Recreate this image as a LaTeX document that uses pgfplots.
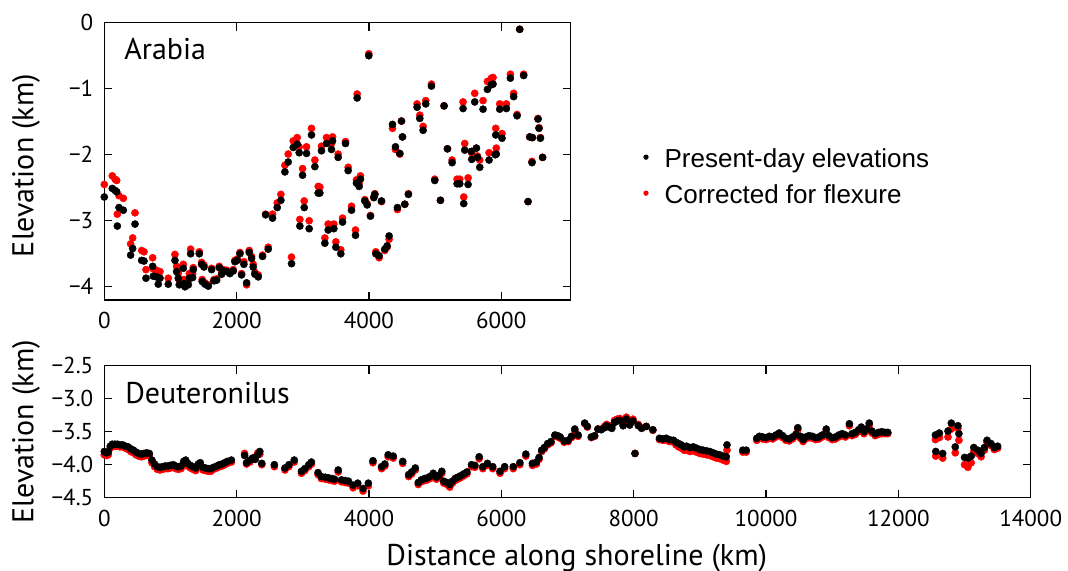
\documentclass[border=0pt]{standalone}
\usepackage{fontspec}
\setmainfont{PT Sans}
\newfontfamily\legendfont{Liberation Sans}
\usepackage{pgfplots}
\pgfplotsset{compat=1.18}
\usepackage{pgfplotstable}

\newcommand\tickfont{\fontsize{11.5}{13}\selectfont}
\newcommand\labfont{\fontsize{15}{18}\selectfont}

% Arabia: distance, present-day elevation, corrected elevation
\pgfplotstableread{
x b r
0 -2.64 -2.45
121 -2.51 -2.32
162 -2.54 -2.37
187 -2.56 -2.39
197 -3.08 -2.90
222 -2.80 -2.62
288 -2.84 -2.66
398 -3.52 -3.35
429 -3.42 -3.26
464 -3.05 -2.88
565 -3.60 -3.45
600 -3.61 -3.47
630 -3.87 -3.74
731 -3.69 -3.56
741 -3.84 -3.73
791 -3.85 -3.75
816 -3.96 -3.86
842 -3.87 -3.77
967 -3.96 -3.87
1068 -3.60 -3.51
1093 -3.77 -3.69
1118 -3.87 -3.80
1133 -3.97 -3.90
1194 -3.72 -3.66
1204 -3.95 -3.89
1219 -4.00 -3.94
1270 -3.97 -3.91
1285 -3.87 -3.80
1305 -3.50 -3.43
1335 -3.86 -3.80
1345 -3.74 -3.71
1436 -3.50 -3.47
1471 -3.66 -3.63
1480 -3.92 -3.89
1506 -3.70 -3.67
1521 -3.96 -3.94
1572 -3.99 -3.97
1622 -3.74 -3.72
1657 -3.91 -3.89
1698 -3.90 -3.88
1738 -3.71 -3.69
1773 -3.81 -3.79
1798 -3.76 -3.74
1849 -3.77 -3.75
1899 -3.80 -3.78
1949 -3.76 -3.74
1974 -3.62 -3.60
2010 -3.60 -3.58
2050 -3.50 -3.48
2075 -3.82 -3.80
2110 -3.66 -3.62
2151 -3.94 -3.97
2191 -3.48 -3.45
2226 -3.57 -3.54
2251 -3.70 -3.66
2276 -3.81 -3.78
2327 -3.85 -3.82
2392 -3.54 -3.52
2438 -2.91 -2.90
2478 -3.43 -3.40
2543 -2.96 -2.90
2614 -2.80 -2.73
2669 -2.69 -2.60
2730 -2.26 -2.16
2780 -2.11 -1.99
2830 -3.65 -3.55
2856 -1.89 -1.79
2916 -1.84 -1.74
2946 -1.97 -1.88
2956 -3.08 -2.98
2997 -2.31 -2.21
3022 -2.80 -2.70
3057 -1.98 -1.88
3097 -3.12 -3.00
3132 -1.70 -1.60
3183 -2.18 -2.08
3233 -2.58 -2.48
3258 -2.58 -2.49
3283 -1.94 -1.87
3334 -3.34 -3.26
3359 -1.83 -1.74
3384 -3.14 -3.05
3434 -1.92 -1.83
3450 -1.79 -1.73
3470 -3.12 -3.05
3500 -3.40 -3.32
3535 -2.04 -1.99
3575 -3.50 -3.44
3601 -3.02 -2.96
3646 -1.83 -1.80
3686 -2.24 -2.19
3737 -2.84 -2.78
3797 -3.22 -3.14
3812 -2.43 -2.38
3822 -1.14 -1.08
3852 -2.48 -2.44
3872 -2.37 -2.32
3938 -2.70 -2.68
3973 -2.76 -2.74
3998 -0.50 -0.47
4023 -2.93 -2.92
4074 -2.65 -2.64
4089 -2.60 -2.59
4104 -3.50 -3.47
4154 -3.53 -3.56
4190 -2.70 -2.71
4240 -3.43 -3.45
4275 -3.38 -3.40
4305 -3.23 -3.28
4356 -1.54 -1.60
4401 -1.88 -1.92
4431 -2.80 -2.83
4467 -1.98 -1.99
4492 -1.49 -1.49
4507 -1.73 -1.73
4542 -2.75 -2.75
4597 -2.60 -2.59
4728 -1.28 -1.23
4769 -1.45 -1.40
4819 -1.63 -1.57
4859 -1.23 -1.18
4945 -0.96 -0.93
4995 -2.39 -2.37
5081 -2.69 -2.69
5136 -1.26 -1.26
5187 -1.91 -1.91
5257 -2.12 -2.08
5333 -2.44 -2.37
5373 -2.44 -2.37
5423 -1.30 -1.20
5433 -2.74 -2.64
5448 -1.93 -1.83
5499 -2.45 -2.35
5549 -1.95 -1.95
5554 -2.07 -1.97
5599 -1.20 -1.07
5624 -1.90 -1.90
5640 -2.04 -2.02
5675 -2.19 -2.08
5725 -1.31 -1.18
5791 -1.01 -0.89
5816 -2.08 -1.97
5851 -0.94 -0.84
5876 -0.93 -0.83
5911 -2.00 -1.98
5917 -1.70 -1.60
5925 -1.99 -1.90
5977 -1.31 -1.23
6012 -1.75 -1.68
6078 -1.30 -1.23
6138 -0.84 -0.78
6188 -1.12 -1.07
6239 -1.41 -1.39
6279 -0.10 -0.10
6339 -0.80 -0.78
6405 -2.71 -2.71
6430 -1.73 -1.73
6465 -2.12 -2.10
6470 -1.74 -1.74
6556 -1.46 -1.45
6571 -1.60 -1.59
6592 -1.75 -1.74
6625 -2.04 -2.04
}\arabia

% Deuteronilus
\pgfplotstableread{
x b r
0 -3.80 -3.85
30 -3.82 -3.86
60 -3.81 -3.85
90 -3.72 -3.75
120 -3.69 -3.72
160 -3.69 -3.72
200 -3.69 -3.72
240 -3.70 -3.73
280 -3.70 -3.73
320 -3.72 -3.75
360 -3.73 -3.77
400 -3.76 -3.80
440 -3.78 -3.82
480 -3.81 -3.85
520 -3.83 -3.87
560 -3.84 -3.88
600 -3.83 -3.87
640 -3.82 -3.86
680 -3.83 -3.86
720 -3.93 -3.97
760 -3.99 -4.03
800 -4.03 -4.07
840 -4.04 -4.08
880 -4.03 -4.07
920 -4.02 -4.06
960 -4.02 -4.06
1000 -4.01 -4.05
1040 -4.00 -4.04
1080 -4.02 -4.06
1120 -4.03 -4.07
1160 -4.02 -4.06
1200 -3.95 -3.98
1230 -3.93 -3.96
1260 -3.98 -4.02
1300 -4.01 -4.05
1340 -4.03 -4.07
1380 -4.05 -4.09
1420 -3.99 -4.03
1450 -3.97 -4.01
1490 -4.04 -4.08
1530 -4.05 -4.09
1570 -4.06 -4.10
1610 -4.06 -4.10
1650 -4.04 -4.07
1700 -4.02 -4.05
1740 -4.00 -4.03
1780 -3.99 -4.02
1820 -3.97 -4.00
1860 -3.95 -3.98
1920 -3.93 -3.96
2120 -3.86 -3.83
2150 -3.97 -3.99
2200 -3.93 -3.96
2240 -3.90 -3.92
2280 -3.92 -3.88
2320 -3.85 -3.82
2350 -3.80 -3.84
2380 -3.98 -4.00
2570 -4.00 -4.03
2730 -4.05 -4.08
2790 -4.00 -4.03
2870 -3.93 -3.96
2980 -4.10 -4.13
3030 -4.06 -4.09
3090 -4.00 -4.03
3130 -3.96 -3.99
3230 -4.12 -4.15
3280 -4.18 -4.21
3340 -4.19 -4.22
3390 -4.20 -4.23
3440 -4.21 -4.24
3480 -4.22 -4.25
3535 -4.08 -4.11
3585 -4.23 -4.26
3640 -4.24 -4.27
3690 -4.25 -4.28
3760 -4.31 -4.35
3830 -4.28 -4.32
3910 -4.36 -4.40
3990 -4.28 -4.32
4060 -3.94 -3.97
4190 -4.03 -4.06
4240 -3.99 -4.02
4290 -3.85 -3.88
4366 -3.87 -3.90
4510 -3.95 -3.98
4600 -4.15 -4.18
4645 -4.11 -4.14
4700 -4.05 -4.08
4745 -4.27 -4.30
4790 -4.23 -4.26
4840 -4.21 -4.24
4880 -4.20 -4.23
4920 -4.18 -4.21
4970 -4.13 -4.16
5020 -4.19 -4.22
5060 -4.16 -4.19
5100 -4.10 -4.13
5130 -4.25 -4.28
5180 -4.27 -4.30
5220 -4.30 -4.34
5260 -4.25 -4.28
5300 -4.21 -4.24
5340 -4.19 -4.22
5380 -4.17 -4.20
5430 -4.14 -4.17
5480 -4.11 -4.14
5550 -4.00 -4.03
5600 -4.01 -4.04
5665 -3.88 -3.91
5720 -4.03 -4.06
5790 -3.98 -4.01
5870 -4.03 -4.06
5980 -4.10 -4.13
6050 -4.03 -4.06
6180 -4.03 -4.06
6280 -3.97 -4.00
6370 -3.84 -3.87
6470 -3.98 -4.01
6530 -3.96 -3.99
6570 -3.89 -3.92
6610 -3.78 -3.80
6650 -3.74 -3.76
6700 -3.68 -3.70
6750 -3.65 -3.67
6810 -3.55 -3.57
6850 -3.56 -3.58
6890 -3.58 -3.60
6950 -3.64 -3.66
7010 -3.63 -3.65
7060 -3.57 -3.59
7110 -3.46 -3.48
7160 -3.55 -3.57
7260 -3.37 -3.38
7300 -3.42 -3.43
7360 -3.58 -3.59
7410 -3.56 -3.57
7460 -3.46 -3.46
7510 -3.47 -3.46
7560 -3.44 -3.42
7590 -3.41 -3.39
7630 -3.43 -3.41
7670 -3.45 -3.42
7710 -3.36 -3.33
7750 -3.34 -3.31
7790 -3.33 -3.30
7840 -3.41 -3.38
7890 -3.31 -3.28
7940 -3.40 -3.37
7990 -3.34 -3.31
8020 -3.83 -3.83
8070 -3.41 -3.39
8120 -3.45 -3.44
8190 -3.42 -3.42
8290 -3.47 -3.48
8390 -3.60 -3.62
8440 -3.61 -3.63
8490 -3.60 -3.63
8540 -3.62 -3.65
8600 -3.63 -3.66
8640 -3.66 -3.70
8680 -3.68 -3.73
8720 -3.70 -3.75
8760 -3.73 -3.78
8800 -3.72 -3.78
8850 -3.74 -3.80
8900 -3.73 -3.79
8950 -3.75 -3.81
9000 -3.77 -3.83
9050 -3.78 -3.84
9100 -3.79 -3.85
9150 -3.80 -3.86
9200 -3.82 -3.88
9250 -3.84 -3.90
9300 -3.85 -3.91
9350 -3.87 -3.93
9400 -3.88 -3.95
9410 -3.70 -3.78
9650 -3.78 -3.81
9700 -3.78 -3.81
9860 -3.60 -3.63
9900 -3.57 -3.60
9950 -3.58 -3.61
10000 -3.59 -3.62
10050 -3.57 -3.60
10100 -3.58 -3.61
10150 -3.55 -3.58
10200 -3.52 -3.55
10250 -3.56 -3.59
10300 -3.60 -3.63
10350 -3.61 -3.64
10400 -3.58 -3.61
10450 -3.54 -3.57
10480 -3.44 -3.47
10520 -3.57 -3.60
10560 -3.62 -3.65
10600 -3.58 -3.61
10650 -3.56 -3.59
10700 -3.57 -3.60
10750 -3.59 -3.62
10800 -3.58 -3.61
10850 -3.55 -3.58
10910 -3.46 -3.49
10950 -3.56 -3.59
11000 -3.59 -3.62
11050 -3.58 -3.61
11100 -3.55 -3.58
11150 -3.53 -3.56
11200 -3.55 -3.58
11260 -3.38 -3.41
11300 -3.53 -3.56
11350 -3.51 -3.54
11400 -3.47 -3.50
11440 -3.43 -3.46
11480 -3.50 -3.53
11520 -3.46 -3.49
11560 -3.37 -3.40
11600 -3.49 -3.52
11650 -3.53 -3.56
11700 -3.51 -3.54
11750 -3.50 -3.53
11800 -3.51 -3.53
11840 -3.51 -3.53
12560 -3.55 -3.62
12565 -3.80 -3.87
12620 -3.52 -3.59
12670 -3.83 -3.90
12750 -3.49 -3.58
12800 -3.37 -3.46
12860 -3.73 -3.82
12900 -3.41 -3.45
12915 -3.53 -3.63
13000 -3.89 -4.00
13050 -3.90 -4.04
13100 -3.87 -3.97
13140 -3.74 -3.80
13200 -3.78 -3.83
13250 -3.83 -3.88
13300 -3.74 -3.78
13340 -3.63 -3.66
13400 -3.68 -3.71
13450 -3.74 -3.77
13500 -3.72 -3.75
}\deutero

\pgfplotsset{
  shore/.style={
    scale only axis,
    clip=false,
    scaled ticks=false,
    tick align=inside,
    tick pos=both,
    major tick length=4pt,
    axis line style={line width=0.7pt},
    every tick/.style={black, line width=0.6pt},
    tick label style={font=\tickfont},
    yticklabel style={xshift=-2pt},
    xticklabel style={yshift=-2.5pt},
  },
  dots/.style={only marks, mark=*, mark size=1.8pt, #1,
    mark options={line width=0.2pt}},
}

\begin{document}
\begin{tikzpicture}
\path[use as bounding box] (0,0) rectangle (534pt,285.5pt);

% Arabia
\begin{axis}[shore,
  at={(52.15pt,135.5pt)}, anchor=south west,
  width=233.2pt, height=138.65pt,
  xmin=0, xmax=7050, ymin=-4.2, ymax=0,
  xtick={0,2000,4000,6000}, xticklabels={0,2000,4000,6000},
  ytick={-4,-3,-2,-1,0}, yticklabels={−4,−3,−2,−1,0},
  ylabel={Elevation (km)},
  every axis y label/.style={at={(axis description cs:-0.152,0.485)}, rotate=90, anchor=base, font=\labfont},
  reverse legend,
  legend style={at={(rel axis cs:1.155,0.438)}, anchor=west, draw=none, fill=none,
    font=\legendfont\fontsize{13}{15}\selectfont, inner sep=0pt,
    nodes={inner sep=0pt, text height=9.5pt, text depth=2.5pt},
    row sep=6pt, column sep=8pt},
  legend cell align=left,
  legend image code/.code={\fill[#1] (1.2pt,1.7pt) circle (1.1pt);},
]
\addplot[dots=red] table[x=x, y=r] {\arabia};
\addlegendentry{Corrected for flexure}
\addplot[dots=black] table[x=x, y=b] {\arabia};
\addlegendentry{Present-day elevations}
\node[anchor=base west, inner sep=0pt, font=\labfont] at (rel axis cs:0.042,0.8655) {Arabia};
\end{axis}

% Deuteronilus
\begin{axis}[shore,
  at={(52.15pt,36.65pt)}, anchor=south west,
  width=463.2pt, height=66pt,
  xmin=0, xmax=14000, ymin=-4.5, ymax=-2.5,
  xtick={0,2000,4000,6000,8000,10000,12000,14000},
  xticklabels={0,2000,4000,6000,8000,10000,12000,14000},
  ytick={-4.5,-4,-3.5,-3,-2.5}, yticklabels={−4.5,−4.0,−3.5,−3.0,−2.5},
  ylabel={Elevation (km)},
  every axis y label/.style={at={(axis description cs:-0.0766,0.5)}, rotate=90, anchor=base, font=\labfont},
  xlabel={Distance along shoreline (km)},
  every axis x label/.style={at={(axis description cs:0.51,-0.51)}, anchor=base, font=\labfont},
]
\addplot[dots=red] table[x=x, y=r] {\deutero};
\addplot[dots=black] table[x=x, y=b] {\deutero};
\node[anchor=base west, inner sep=0pt, font=\labfont] at (rel axis cs:0.0223,0.715) {Deuteronilus};
\end{axis}
\end{tikzpicture}
\end{document}
